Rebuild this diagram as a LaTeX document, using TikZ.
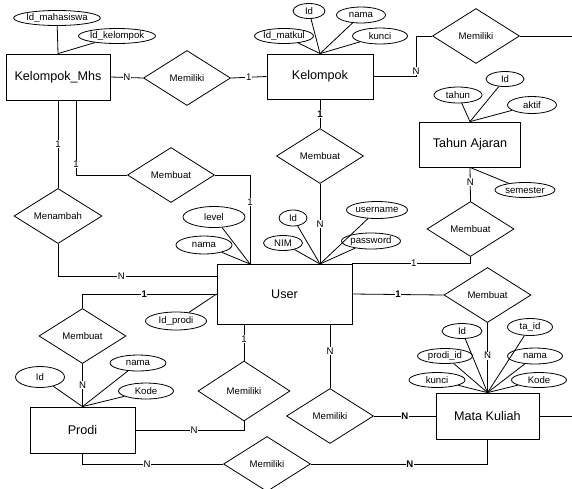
\documentclass[tikz,border=0pt]{standalone}
\usepackage{fontspec}
\setmainfont{Liberation Sans}
\usetikzlibrary{shapes.geometric}

\begin{document}
\begin{tikzpicture}[x=1pt, y=-1pt, line width=0.8pt,
	entity/.style={draw, rectangle, minimum width=104pt, minimum height=46pt, inner sep=0pt, font=\fontsize{12.6}{14}\selectfont},
	rel/.style={draw, diamond, minimum width=87pt, minimum height=55pt, inner sep=0pt, font=\fontsize{9.6}{11}\selectfont},
	attr/.style={draw, ellipse, minimum height=15pt, inner sep=0pt, font=\fontsize{9.6}{11}\selectfont},
	card/.style={fill=white, inner sep=0.6pt, font=\fontsize{9.6}{11}\selectfont},
	bcard/.style={card, font=\fontsize{9.6}{11}\selectfont\bfseries}]
				\useasboundingbox (0,0) rectangle (572,488);
				\node[entity] (kmhs) at (58,77) {Kelompok\_Mhs};
				\node[entity, minimum width=106pt, minimum height=45pt] (kel) at (320,76.5) {Kelompok};
				\node[entity, minimum width=101pt, minimum height=45pt] (ta) at (470,144.5) {Tahun Ajaran};
				\node[entity, minimum width=135pt, minimum height=60pt] (user) at (284.5,294) {User};
				\node[entity, minimum width=105pt] (prodi) at (82.5,430) {Prodi};
				\node[entity, minimum width=103pt] (mk) at (487.5,416) {Mata Kuliah};
				\coordinate (userL) at (250,264);
				\coordinate (userR) at (320,264);
				\coordinate (edgeTop) at (572,36);
				\coordinate (edgeMk) at (572,416);
				\node[rel] (memKel) at (187,78) {Memiliki};
				\node[rel] (memMk) at (476,36) {Memiliki};
				\node[rel] (buatKel) at (320,156) {Membuat};
				\node[rel] (buatKmhs) at (171,175) {Membuat};
				\node[rel, minimum width=88pt] (tambah) at (58,216) {Menambah};
				\node[rel] (buatTa) at (470.5,229) {Membuat};
				\node[rel] (buatMk) at (487.5,295) {Membuat};
				\node[rel] (buatProdi) at (82.5,336) {Membuat};
				\node[rel, minimum width=92pt, minimum height=60pt] (memUserProdi) at (244,391) {Memiliki};
				\node[rel] (memUserMk) at (330,416) {Memiliki};
				\node[rel] (memProdiMk) at (267,464) {Memiliki};
				\node[attr, minimum width=80pt] (kmhsIdm) at (57,18) {Id\_mahasiswa};
				\node[attr, minimum width=70pt] (kmhsIdk) at (117,36) {Id\_kelompok};
				\node[attr, minimum width=32pt] (kelId) at (309,11) {Id};
				\node[attr, minimum width=49pt, minimum height=16pt] (kelNama) at (361,15) {nama};
				\node[attr, minimum width=55pt, minimum height=16pt] (kelKunci) at (380,36) {kunci};
				\node[attr, minimum width=55pt] (kelMatkul) at (284,36) {Id\_matkul};
				\node[attr, minimum width=48pt, minimum height=16pt] (taTahun) at (458,95) {tahun};
				\node[attr, minimum width=38pt] (taId) at (505,79) {Id};
				\node[attr, minimum width=49pt, minimum height=17pt] (taAktif) at (532,105) {aktif};
				\node[attr, minimum width=60pt] (taSem) at (525,190) {semester};
				\node[attr, minimum width=62pt, minimum height=21pt] (userLevel) at (214,217) {level};
				\node[attr, minimum width=56pt, minimum height=18pt] (userNama) at (204,245) {nama};
				\node[attr, minimum width=28pt, minimum height=16pt] (userId) at (293,218) {Id};
				\node[attr, minimum width=39pt] (userNim) at (283,243) {NIM};
				\node[attr, minimum width=61pt, minimum height=17pt] (userName) at (377,210) {username};
				\node[attr, minimum width=59pt, minimum height=16pt] (userPass) at (371,241) {password};
				\node[attr, minimum width=61pt, minimum height=18pt] (userProdi) at (176,321) {Id\_prodi};
				\node[attr, minimum width=49pt, minimum height=21pt] (prodiId) at (40,377) {Id};
				\node[attr, minimum width=56pt, minimum height=16pt] (prodiNama) at (138,363) {nama};
				\node[attr, minimum width=55pt, minimum height=16pt] (prodiKode) at (146,391) {Kode};
				\node[attr, minimum width=40pt] (mkId) at (462,331) {Id};
				\node[attr, minimum width=45pt, minimum height=17pt] (mkTa) at (530,327) {ta\_id};
				\node[attr, minimum width=55pt] (mkProdi) at (445,356) {prodi\_id};
				\node[attr, minimum width=55pt, minimum height=16pt] (mkNama) at (535,356) {nama};
				\node[attr, minimum width=56pt] (mkKunci) at (437,380) {kunci};
				\node[attr, minimum width=55pt] (mkKode) at (539,380) {Kode};
				\foreach \a in {kmhsIdm, kmhsIdk}
				\draw (\a) -- (kmhs.north);
				\foreach \a in {kelId, kelNama, kelKunci, kelMatkul}
				\draw (\a) -- (kel.north);
				\foreach \a in {taTahun, taId, taAktif}
				\draw (\a) -- (ta.north);
				\foreach \a in {userLevel, userNama}
				\draw (\a) -- (userL);
				\foreach \a in {userId, userNim, userName, userPass}
				\draw (\a) -- (userR);
				\foreach \a in {prodiId, prodiNama, prodiKode}
				\draw (\a) -- (prodi.north);
				\foreach \a in {mkId, mkTa, mkProdi, mkNama, mkKunci, mkKode}
				\draw (\a) -- (mk.north);
				\draw (ta.south) -- (taSem);
				\draw (userProdi) -- (user.west);
				\draw (kmhs.east) -- node[card] {N} (memKel.west);
				\draw (memKel.east) -- node[card] {1} (kel.west);
				\draw (kel.east) -| node[card, pos=0.57] {N} ([xshift=-16pt]memMk.west) -- (memMk.west);
				\draw (memMk.east) -- (edgeTop);
				\draw (kel.south) -- node[bcard] {1} (buatKel.north);
				\draw (buatKel.south) -- node[card] {N} (userR);
				\draw ([xshift=0pt]kmhs.south) -- node[card, pos=0.5] {1} (tambah.north);
				\draw (tambah.south) |- node[card, pos=0.7] {N} ([yshift=18pt]user.west);
				\draw (buatKmhs.west) -| node[card, pos=0.57] {1} ([xshift=18pt]kmhs.south);
				\draw (buatKmhs.east) -| node[card, pos=0.65] {1} (userL);
				\draw (user.west) -| node[bcard, pos=0.27] {1} (buatProdi.north);
				\draw (buatProdi.south) -- node[card] {N} (prodi.north);
				\draw (prodi.east) -| node[card, pos=0.27] {N} (memUserProdi.south);
				\draw (memUserProdi.north) -- node[card, pos=0.6] {1} (memUserProdi.north |- user.south);
				\draw (prodi.south) |- node[card, pos=0.73] {N} (memProdiMk.west);
				\draw (memProdiMk.east) -| node[bcard, pos=0.28] {N} (mk.south);
				\draw (memUserMk.north) -- node[card, pos=0.58] {N} (memUserMk.north |- user.south);
				\draw (memUserMk.east) -- node[bcard] {N} (mk.west);
				\draw (user.east) -- node[bcard] {1} (buatMk.west);
				\draw (buatMk.south) -- node[card, pos=0.47] {N} (mk.north);
				\draw (user.north east) -| node[card, pos=0.26] {1} (buatTa.south);
				\draw (buatTa.north) -- node[card, pos=0.56] {N} (ta.south);
				\draw (mk.east) -- (edgeMk);
			\end{tikzpicture}
\end{document}
